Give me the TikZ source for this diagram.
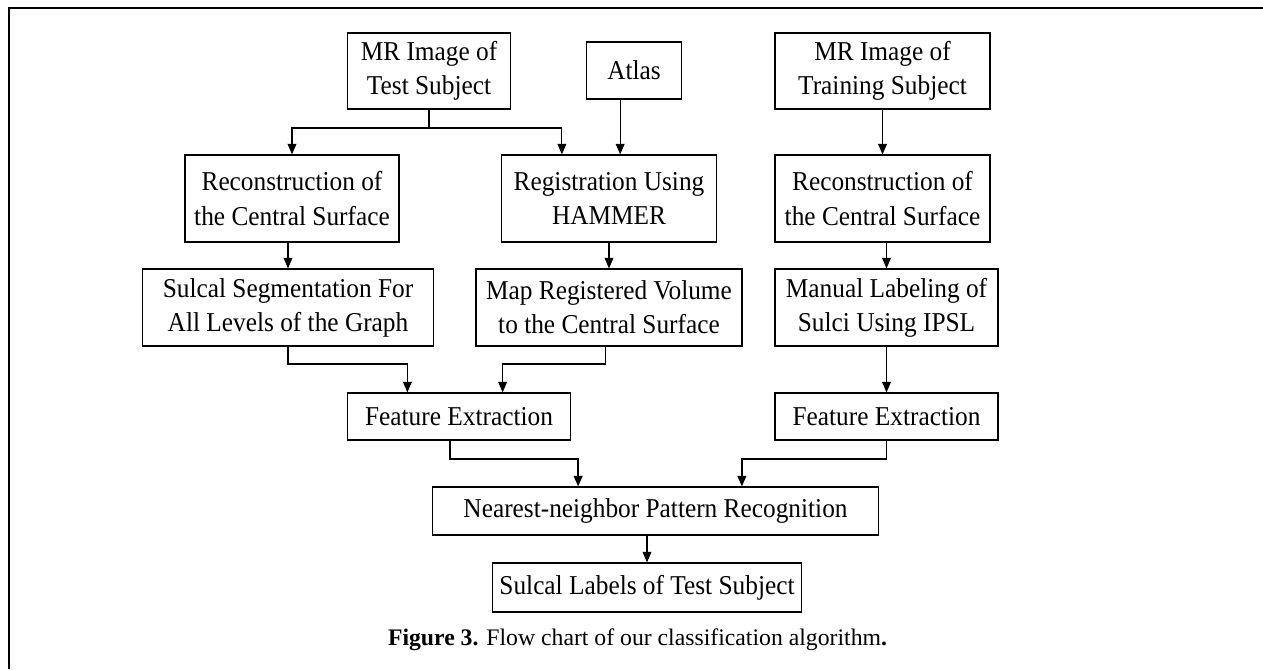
\documentclass[tikz,border=0pt]{standalone}
\usepackage{fontspec}
\setmainfont{Liberation Serif}
\newfontfamily\boxfont[FakeStretch=0.93]{Liberation Serif}
\usepackage{tikz}
\usetikzlibrary{calc, positioning, arrows.meta}

\begin{document}
\begin{tikzpicture}[
    box/.style={draw, line width=0.7pt, align=center, inner sep=0pt, font=\boxfont\fontsize{15.5}{19.4}\selectfont},
    arr/.style={-{Triangle[length=6pt,width=5pt]}, line width=0.6pt},
    tarr/.style={arr, line width=0.9pt},
    ]
    \useasboundingbox(0,0) rectangle (25.26,-13.38);
    \draw[line width=1.15pt](0.18,-13.38)--(0.18,-0.16)--(25.26,-0.16);
    % top row
    \node[box, minimum width=3.26cm, minimum height=1.52cm](mrtest) at (8.58,-1.42){MR Image of\\Test Subject};
    \node[box, minimum width=1.89cm, minimum height=1.14cm](atlas) at (12.68,-1.41){Atlas};
    \node[box, minimum width=4.3cm, minimum height=1.52cm](mrtrain) at (17.65,-1.42){MR Image of\\Training Subject};
    % second row
    \node[box, minimum width=4.28cm, minimum height=1.74cm](reconl) at (5.84,-3.97){Reconstruction of\\the Central Surface};
    \node[box, minimum width=4.3cm, minimum height=1.74cm](reg) at (12.18,-3.97){Registration Using\\HAMMER};
    \node[box, minimum width=4.3cm, minimum height=1.74cm](reconr) at (17.65,-3.97){Reconstruction of\\the Central Surface};
    % third row
    \node[box, minimum width=5.82cm, minimum height=1.54cm](segm) at (5.76,-6.15){Sulcal Segmentation For\\All Levels of the Graph};
    \node[box, minimum width=5.32cm, minimum height=1.54cm](mapreg) at (12.18,-6.15){Map Registered Volume\\to the Central Surface};
    \node[box, minimum width=4.46cm, minimum height=1.54cm](manual) at (17.73,-6.15){Manual Labeling of\\Sulci Using IPSL};
    % features
    \node[box, minimum width=4.46cm, minimum height=0.94cm](featl) at (9.18,-8.33){Feature Extraction};
    \node[box, minimum width=4.46cm, minimum height=0.94cm](featr) at (17.73,-8.33){Feature Extraction};
    \node[box, minimum width=8.91cm, minimum height=0.96cm](nn) at (13.11,-10.22){Nearest-neighbor Pattern Recognition};
    \node[box, minimum width=6.18cm, minimum height=0.98cm](labels) at (12.94,-11.75){Sulcal Labels of Test Subject};
    \node(cap) at (12.75,-12.8){\fontsize{13.5}{16}\selectfont\textbf{Figure 3.} Flow chart of our classification algorithm\textbf{.}};

    % connectors
    \coordinate(j1) at (8.65,-2.56);
    \coordinate(r1) at ([xshift=1.22cm]reg.north west);
    \coordinate(a1) at ([xshift=0.68cm]atlas.south west);
    \draw[line width=0.9pt](mrtest.south)--(mrtest.south|-j1);
    \draw[arr](mrtest.south|-j1)-|(reconl.north);
    \draw[arr](mrtest.south|-j1)-|(r1);
    \draw[arr](a1)--(a1|-reg.north);
    \draw[tarr](mrtrain)--(reconr);
    \draw[arr](segm.north|-reconl.south)--(segm.north);
    \draw[arr](mapreg.north|-reg.south)--(mapreg.north);
    \draw[arr](manual.north|-reconr.south)--(manual.north);
    \coordinate(m1) at (0,-7.28);
    \coordinate(f1) at ([xshift=1.21cm]featl.north west);
    \coordinate(f2) at ([xshift=-1.37cm]featl.north east);
    \coordinate(s2) at ([xshift=-0.07cm]mapreg.south);
    \draw[arr](segm.south)|-(m1-|f1)--(f1);
    \draw[arr](s2)|-(m1-|f2)--(f2);
    \draw[arr](manual.south)--(featr.north);
    \coordinate(m2) at (0,-9.18);
    \coordinate(e1) at ([xshift=2.06cm]featl.south west);
    \coordinate(n1) at ([xshift=2.92cm]nn.north west);
    \coordinate(n2) at ([xshift=-2.74cm]nn.north east);
    \draw[tarr](e1)|-(m2-|n1)--(n1);
    \draw[tarr](featr.south)|-(m2-|n2)--(n2);
    \draw[arr](labels.north|-nn.south)--(labels.north);
\end{tikzpicture}
\end{document}
